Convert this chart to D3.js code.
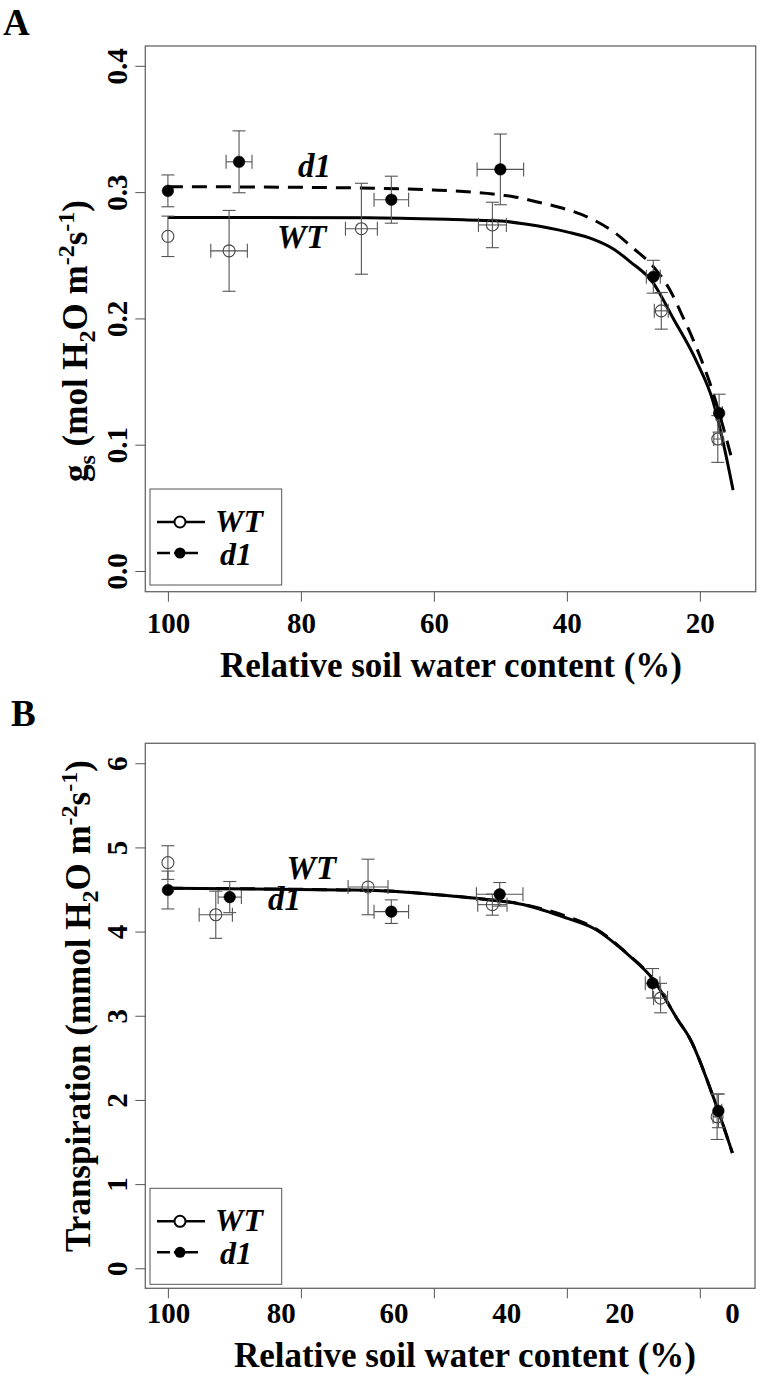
<!DOCTYPE html>
<html>
<head>
<meta charset="utf-8">
<script src="https://cdn.jsdelivr.net/npm/d3@7"></script>
<style>
  body { margin: 0; background: #ffffff; }
  text { font-family: "Liberation Serif", "Times New Roman", serif; font-weight: bold; }
</style>
</head>
<body>
<script>
const width = 760;
const height = 1378;

// axis ticks
const xTicks = [100, 80, 60, 40, 20];
const xLabelsB = [100, 80, 60, 40, 20, 0];
const yTicksA = [0, 0.1, 0.2, 0.3, 0.4];
const yTicksB = [0, 1, 2, 3, 4, 5, 6];

// Panel A: stomatal conductance
const wtA_x = [100, 90.8, 70.9, 51.2, 25.8, 17.3];
const wtA_xse = [0, 2.75, 2.4, 2.1, 1.05, 0.6];
const wtA_y = [0.265, 0.2535, 0.271, 0.274, 0.206, 0.1045];
const wtA_yse = [0.016, 0.032, 0.036, 0.018, 0.0145, 0.0185];

const d1A_x = [100, 89.3, 66.4, 50.0, 27.0, 17.1];
const d1A_xse = [0, 1.95, 2.6, 3.5, 1.05, 0.5];
const d1A_y = [0.301, 0.324, 0.294, 0.318, 0.233, 0.125];
const d1A_yse = [0.0126, 0.0245, 0.0186, 0.028, 0.013, 0.015];

const wtA_fit = [[100, 0.280], [70, 0.2798], [55, 0.278], [50, 0.2772], [46, 0.2745], [40, 0.2685],
  [36, 0.2626], [33, 0.255], [30.5, 0.245], [27, 0.228], [24, 0.2], [20.5, 0.166],
  [18, 0.134], [16.5, 0.102], [15, 0.064]];
const d1A_fit = [[100, 0.3043], [80, 0.3038], [68, 0.303], [60, 0.3017], [52, 0.299], [48, 0.2964],
  [44.6, 0.2924], [40.6, 0.2872], [36.5, 0.2793], [33, 0.2687], [30, 0.2555], [27, 0.241],
  [24.5, 0.2225], [22.8, 0.204], [21, 0.183], [18.5, 0.149], [15, 0.085]];

// Panel B: transpiration
const wtB_x = [100, 92.8, 69.9, 51.2, 25.9, 17.4];
const wtB_xse = [0, 2.5, 3.0, 2.2, 1.05, 0.6];
const wtB_y = [4.82, 4.20, 4.53, 4.32, 3.21, 1.80];
const wtB_yse = [0.20, 0.28, 0.33, 0.125, 0.175, 0.27];

const d1B_x = [100, 90.7, 66.4, 50.1, 27.1, 17.2];
const d1B_xse = [0, 1.75, 2.6, 3.5, 1.1, 0.5];
const d1B_y = [4.494, 4.41, 4.237, 4.443, 3.386, 1.87];
const d1B_yse = [0.225, 0.185, 0.14, 0.14, 0.175, 0.2];

const wtB_fit = [[100, 4.515], [74, 4.495], [68, 4.486], [59, 4.435], [53.6, 4.395], [46, 4.31],
  [40, 4.16], [36, 4.04], [31, 3.74], [27, 3.43], [23.3, 2.95], [21.5, 2.73], [18, 2.04], [15.1, 1.37]];
const d1B_fit = [[100, 4.515], [74, 4.495], [68, 4.486], [59, 4.435], [53.6, 4.395], [46, 4.315],
  [40, 4.18], [36, 4.05], [31, 3.745], [27, 3.43], [23.3, 2.95], [21.5, 2.73], [18, 2.04], [15.1, 1.37]];

const svg = d3.select("body")
    .append("svg")
    .attr("width", width)
    .attr("height", height)
    .style("background-color", "#ffffff");

const toPoints = (xs, xse, ys, yse) => xs.map((x, i) => ({x: x, xse: xse[i], y: ys[i], yse: yse[i]}));

function drawPanel(p) {
    const x = d3.scaleLinear().domain(p.xDomain).range([p.left, p.right]);
    const y = d3.scaleLinear().domain(p.yDomain).range([p.bottom, p.top]);
    const g = svg.append("g");

    // frame
    g.append("rect")
        .attr("x", p.left).attr("y", p.top)
        .attr("width", p.right - p.left).attr("height", p.bottom - p.top)
        .attr("fill", "none").attr("stroke", "#666").attr("stroke-width", 1.3);

    // x axis ticks
    const xa = g.append("g")
        .attr("transform", `translate(0,${p.bottom})`)
        .call(d3.axisBottom(x).tickValues(xTicks).tickSize(10).tickFormat(p.xLabels ? "" : d3.format("d")));
    xa.select(".domain").remove();
    xa.selectAll("line").attr("stroke", "#555");
    xa.selectAll("text").attr("y", p.xLabelOffset).attr("dy", 0)
        .attr("font-size", 29).attr("fill", "#000");

    if (p.xLabels) {
        // labels of panel B sit on their own spacing
        const xl = d3.scaleLinear().domain([100, 0]).range([x(100), p.labelEnd]);
        const la = g.append("g")
            .attr("transform", `translate(0,${p.bottom})`)
            .call(d3.axisBottom(xl).tickValues(p.xLabels).tickSize(0).tickFormat(d3.format("d")));
        la.select(".domain").remove();
        la.selectAll("text").attr("y", p.xLabelOffset).attr("dy", 0)
            .attr("font-size", 29).attr("fill", "#000");
    }

    // y axis
    const ya = g.append("g")
        .attr("transform", `translate(${p.left},0)`)
        .call(d3.axisLeft(y).tickValues(p.yTicks).tickSize(10).tickFormat(p.yFormat));
    ya.select(".domain").remove();
    ya.selectAll("line").attr("stroke", "#555");
    ya.selectAll("text")
        .attr("transform", "rotate(-90)")
        .attr("x", 0).attr("y", -18).attr("dy", 0)
        .attr("text-anchor", "middle")
        .attr("font-size", 29).attr("fill", "#000");

    // fitted curves
    const line = d3.line().x(d => x(d[0])).y(d => y(d[1])).curve(d3.curveMonotoneX);
    g.append("path").datum(p.d1Fit).attr("d", line)
        .attr("fill", "none").attr("stroke", "#000").attr("stroke-width", 3)
        .attr("stroke-dasharray", "15,9");
    g.append("path").datum(p.wtFit).attr("d", line)
        .attr("fill", "none").attr("stroke", "#000").attr("stroke-width", 3);

    // error bars and points
    const series = [{pts: p.wt, open: true}, {pts: p.d1, open: false}];
    series.forEach(s => {
        const eg = g.append("g").attr("stroke", "#555").attr("stroke-width", 1.1);
        s.pts.forEach(d => {
            const cx = x(d.x), cy = y(d.y);
            const y0 = y(d.y - d.yse), y1 = y(d.y + d.yse);
            eg.append("line").attr("x1", cx).attr("x2", cx).attr("y1", y0).attr("y2", y1);
            eg.append("line").attr("x1", cx - 6.5).attr("x2", cx + 6.5).attr("y1", y0).attr("y2", y0);
            eg.append("line").attr("x1", cx - 6.5).attr("x2", cx + 6.5).attr("y1", y1).attr("y2", y1);
            if (d.xse > 0) {
                const x0 = x(d.x - d.xse), x1 = x(d.x + d.xse);
                eg.append("line").attr("x1", x0).attr("x2", x1).attr("y1", cy).attr("y2", cy);
                eg.append("line").attr("x1", x0).attr("x2", x0).attr("y1", cy - 7).attr("y2", cy + 7);
                eg.append("line").attr("x1", x1).attr("x2", x1).attr("y1", cy - 7).attr("y2", cy + 7);
            }
        });
        g.append("g").selectAll("circle").data(s.pts).join("circle")
            .attr("cx", d => x(d.x)).attr("cy", d => y(d.y))
            .attr("r", s.open ? 6 : 5.8)
            .attr("fill", s.open ? "none" : "#000")
            .attr("stroke", s.open ? "#444" : "#000")
            .attr("stroke-width", s.open ? 1.1 : 0.5);
    });

    // curve labels
    p.notes.forEach(n => {
        g.append("text").attr("x", x(n.x)).attr("y", y(n.y))
            .attr("font-size", 33).attr("font-style", "italic").text(n.text);
    });

    // legend
    const lg = g.append("g").attr("transform", `translate(${p.left + 4.7},${p.bottom - p.legendGap})`);
    lg.append("rect").attr("x", 0).attr("y", -96).attr("width", 131.7).attr("height", 96)
        .attr("fill", "#fff").attr("stroke", "#555").attr("stroke-width", 1);
    lg.append("line").attr("x1", 7).attr("x2", 55).attr("y1", -63).attr("y2", -63)
        .attr("stroke", "#000").attr("stroke-width", 2.5);
    lg.append("circle").attr("cx", 30).attr("cy", -63).attr("r", 5.5)
        .attr("fill", "#fff").attr("stroke", "#000").attr("stroke-width", 2);
    lg.append("text").attr("x", 65).attr("y", -53).attr("font-size", 32)
        .attr("font-style", "italic").text("WT");
    lg.append("line").attr("x1", 7).attr("x2", 48).attr("y1", -32).attr("y2", -32)
        .attr("stroke", "#000").attr("stroke-width", 2.5).attr("stroke-dasharray", "13,4,24");
    lg.append("circle").attr("cx", 30).attr("cy", -32).attr("r", 5.5).attr("fill", "#000");
    lg.append("text").attr("x", 70).attr("y", -20).attr("font-size", 32)
        .attr("font-style", "italic").text("d1");

    // axis titles
    g.append("text").attr("x", p.xTitleX).attr("y", p.xTitleY)
        .attr("text-anchor", "middle").attr("font-size", 35)
        .text("Relative soil water content (%)");

    const yt = g.append("text")
        .attr("transform", `translate(${p.yTitleX},${p.yTitleY}) rotate(-90)`)
        .attr("text-anchor", "middle").attr("font-size", 35);
    p.yTitle.forEach(part => {
        const t = yt.append("tspan").text(part.t);
        if (part.s) t.attr("font-size", 24).attr("dy", part.s === "sub" ? 8 : -13);
        else if (part.back) t.attr("dy", part.back);
    });

    // panel letter
    svg.append("text").attr("x", p.letterX).attr("y", p.letterY)
        .attr("font-size", 37).text(p.letter);
}

drawPanel({
    letter: "A", letterX: 3, letterY: 35,
    left: 145.3, right: 755.7, top: 46, bottom: 591.7,
    xDomain: [103.4, 11.6], yDomain: [-0.0164, 0.4157],
    yTicks: yTicksA, yFormat: d3.format(".1f"),
    xLabelOffset: 41,
    wt: toPoints(wtA_x, wtA_xse, wtA_y, wtA_yse),
    d1: toPoints(d1A_x, d1A_xse, d1A_y, d1A_yse),
    wtFit: wtA_fit, d1Fit: d1A_fit,
    notes: [{text: "d1", x: 80.45, y: 0.3122}, {text: "WT", x: 83.6, y: 0.2557}],
    legendGap: 6.7,
    xTitleX: 451, xTitleY: 677,
    yTitleX: 87, yTitleY: 341,
    yTitle: [{t: "g"}, {t: "s", s: "sub"}, {t: " (mol H", back: -8}, {t: "2", s: "sub"},
             {t: "O m", back: -8}, {t: "-2", s: "sup"}, {t: "s", back: 13}, {t: "-1", s: "sup"}, {t: ")", back: 13}]
});

drawPanel({
    letter: "B", letterX: 11, letterY: 726,
    left: 145.3, right: 755, top: 743.3, bottom: 1288.3,
    xDomain: [103.4, 11.7], yDomain: [-0.238, 6.237],
    yTicks: yTicksB, yFormat: d3.format("d"),
    xLabels: xLabelsB, labelEnd: 732,
    xLabelOffset: 35,
    wt: toPoints(wtB_x, wtB_xse, wtB_y, wtB_yse),
    d1: toPoints(d1B_x, d1B_xse, d1B_y, d1B_yse),
    wtFit: wtB_fit, d1Fit: d1B_fit,
    notes: [{text: "WT", x: 82.15, y: 4.62}, {text: "d1", x: 84.96, y: 4.26}],
    legendGap: 4,
    xTitleX: 465, xTitleY: 1367,
    yTitleX: 90, yTitleY: 1006,
    yTitle: [{t: "Transpiration (mmol H"}, {t: "2", s: "sub"},
             {t: "O m", back: -8}, {t: "-2", s: "sup"}, {t: "s", back: 13}, {t: "-1", s: "sup"}, {t: ")", back: 13}]
});
</script>
</body>
</html>
